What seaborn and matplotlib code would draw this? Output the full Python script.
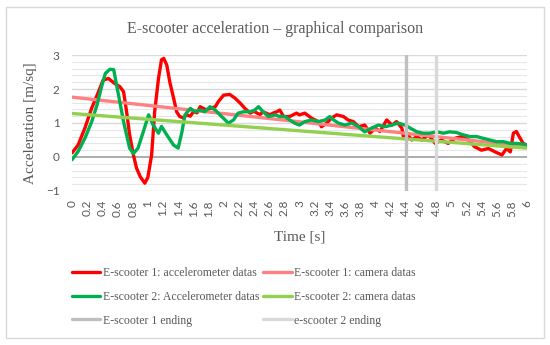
import seaborn as sns
import pandas as pd
import matplotlib.pyplot as plt
from matplotlib.patches import Rectangle

# values
t_acc1 = [0, 0.08, 0.17, 0.26, 0.35, 0.41, 0.48, 0.57, 0.63, 0.68, 0.72, 0.76, 0.81, 0.85,
          0.90, 0.96, 1.00, 1.05, 1.09, 1.14, 1.18, 1.21, 1.25, 1.29, 1.34, 1.38, 1.42, 1.47,
          1.51, 1.56, 1.60, 1.65, 1.69, 1.73, 1.78, 1.82, 1.89, 1.93, 2.0, 2.08, 2.15, 2.22,
          2.28, 2.35, 2.40, 2.44, 2.48, 2.52, 2.57, 2.61, 2.66, 2.70, 2.74, 2.79, 2.87, 2.96,
          3.0, 3.07, 3.16, 3.25, 3.29, 3.36, 3.42, 3.49, 3.58, 3.64, 3.71, 3.78, 3.86, 3.93,
          4.0, 4.06, 4.15, 4.22, 4.28, 4.35, 4.37, 4.41, 4.48, 4.55, 4.61, 4.70, 4.79, 4.87,
          4.96, 5.05, 5.14, 5.23, 5.31, 5.40, 5.49, 5.58, 5.67, 5.73, 5.78, 5.82, 5.86, 5.91,
          5.95, 6.0]
acc1 = [0.12, 0.35, 0.85, 1.44, 1.92, 2.26, 2.31, 2.15, 2.07, 1.92, 1.33, 0.65, 0.06, -0.32,
        -0.58, -0.77, -0.6, 0.06, 1.33, 2.3, 2.86, 2.9, 2.7, 2.2, 1.73, 1.33, 1.19, 1.15,
        1.24, 1.20, 1.33, 1.30, 1.48, 1.43, 1.38, 1.43, 1.48, 1.63, 1.82, 1.84, 1.73, 1.58,
        1.43, 1.29, 1.35, 1.29, 1.25, 1.33, 1.28, 1.24, 1.30, 1.33, 1.38, 1.19, 1.19, 1.29,
        1.24, 1.29, 1.14, 1.04, 0.89, 1.0, 1.14, 1.24, 1.19, 1.09, 1.04, 0.89, 0.94, 0.70,
        0.85, 0.75, 1.09, 0.94, 1.04, 0.85, 0.60, 0.70, 0.50, 0.6, 0.5, 0.65, 0.40, 0.5,
        0.40, 0.55, 0.6, 0.5, 0.3, 0.2, 0.25, 0.15, 0.06, 0.25, 0.15, 0.7, 0.75, 0.55,
        0.4, 0.35]

t_acc2 = [0, 0.08, 0.17, 0.26, 0.33, 0.39, 0.44, 0.50, 0.55, 0.58, 0.63, 0.68, 0.72, 0.76,
          0.81, 0.87, 0.94, 1.01, 1.07, 1.14, 1.18, 1.25, 1.34, 1.40, 1.45, 1.49, 1.56, 1.62,
          1.69, 1.75, 1.82, 1.89, 1.95, 2.02, 2.06, 2.13, 2.19, 2.26, 2.35, 2.41, 2.46, 2.52,
          2.59, 2.68, 2.74, 2.81, 2.87, 2.94, 3.0, 3.07, 3.16, 3.25, 3.34, 3.40, 3.45, 3.51,
          3.60, 3.69, 3.78, 3.86, 3.95, 4.04, 4.13, 4.22, 4.30, 4.39, 4.46, 4.55, 4.63, 4.72,
          4.81, 4.90, 4.98, 5.07, 5.16, 5.25, 5.34, 5.42, 5.51, 5.60, 5.69, 5.78, 5.86, 5.95,
          6.0]
acc2 = [-0.08, 0.16, 0.55, 1.04, 1.53, 2.07, 2.46, 2.58, 2.57, 2.21, 1.63, 1.04, 0.65, 0.26,
        0.1, 0.26, 0.74, 1.24, 0.94, 0.70, 0.9, 0.65, 0.35, 0.26, 0.74, 1.24, 1.43, 1.33,
        1.38, 1.33, 1.48, 1.38, 1.24, 1.09, 0.99, 1.09, 1.29, 1.33, 1.33, 1.38, 1.48, 1.33,
        1.19, 1.24, 1.19, 1.19, 1.09, 0.99, 0.94, 1.04, 1.09, 1.04, 1.09, 1.19, 1.09, 1.0,
        0.94, 1.0, 0.89, 0.74, 0.85, 0.94, 0.89, 0.94, 1.0, 0.94, 0.85, 0.74, 0.70, 0.70,
        0.74, 0.70, 0.74, 0.72, 0.65, 0.6, 0.6, 0.55, 0.5, 0.45, 0.45, 0.4, 0.4, 0.38,
        0.35]

t_cam = [0, 6]
cam1 = [1.76, 0.31]
cam2 = [1.28, 0.26]

end1 = 4.4
end2 = 4.8

x_ticks = [round(i * 0.2, 1) for i in range(31)]
x_labels = [f"{v:g}" for v in x_ticks]
y_ticks = [-1, 0, 1, 2, 3]

labels = ["E-scooter 1: accelerometer datas", "E-scooter 1: camera datas",
          "E-scooter 2: Accelerometer datas", "E-scooter 2: camera datas",
          "E-scooter 1 ending", "e-scooter 2 ending"]

txt = "#595959"
serif = ["Liberation Serif", "DejaVu Serif"]

sns.set_style("white")
plt.rcParams["font.family"] = ["Lato", "DejaVu Sans"]

fig = plt.figure(figsize=(5.5, 3.45), dpi=100)
ax = fig.add_axes([72 / 550, 1 - 191 / 345, 455 / 550, 136 / 345])

# gridlines
for v in [round(-1 + 0.2 * i, 1) for i in range(21)]:
    if v == 0:
        continue
    major = abs(v - round(v)) < 1e-6
    ax.axhline(v, color="#D9D9D9" if major else "#E6E6E6", lw=1.0 if major else 0.8, zorder=0)
ax.axhline(0, color="#A6A6A6", lw=1.3, zorder=1)

lw = 2.4
sns.lineplot(x=t_acc1, y=acc1, ax=ax, color="#FF0000", lw=lw, estimator=None, label=labels[0], zorder=3)
sns.lineplot(x=t_cam, y=cam1, ax=ax, color="#FF8080", lw=lw, estimator=None, label=labels[1], zorder=4)
sns.lineplot(x=t_acc2, y=acc2, ax=ax, color="#00B050", lw=lw, estimator=None, label=labels[2], zorder=5)
sns.lineplot(x=t_cam, y=cam2, ax=ax, color="#92D050", lw=lw, estimator=None, label=labels[3], zorder=6)
ax.axvline(end1, color="#BFBFBF", lw=lw, label=labels[4], zorder=7)
ax.axvline(end2, color="#D9D9D9", lw=lw, label=labels[5], zorder=7)

ax.set_xlim(0, 6)
ax.set_ylim(-1, 3)
ax.set_xticks(x_ticks)
ax.set_xticklabels(x_labels, rotation=90)
ax.set_yticks(y_ticks)
ax.tick_params(axis="both", length=0, labelsize=8.5, labelcolor=txt)
ax.tick_params(axis="x", pad=6.5)
ax.tick_params(axis="y", pad=9)
for s in ax.spines.values():
    s.set_visible(False)

ax.set_xlabel("Time [s]", family=serif, fontsize=11, color=txt)
ax.set_ylabel("Acceleration [m/sq]", family=serif, fontsize=11, color=txt)
ax.xaxis.set_label_coords(0.5, -0.287)
ax.yaxis.set_label_coords(-0.077, 0.5)

fig.text(0.5, 1 - 29 / 345, "E-scooter acceleration \u2013 graphical comparison",
         ha="center", va="center", family=serif, fontsize=11.5, color=txt)

handles, labs = ax.get_legend_handles_labels()
ax.get_legend().remove()
order = [0, 2, 4, 1, 3, 5]
fig.legend([handles[i] for i in order], [labs[i] for i in order], ncol=2,
           loc="upper left", bbox_to_anchor=(72 / 550, 1 - 267 / 345), frameon=False,
           borderpad=0, borderaxespad=0, handlelength=2.4, handletextpad=0.25,
           columnspacing=0.3, labelspacing=1.0, prop={"family": serif, "size": 8.5},
           labelcolor=txt)

fig.patches.append(Rectangle((6 / 550, 1 - 338 / 345), 538 / 550, 331 / 345,
                             transform=fig.transFigure, fill=False,
                             edgecolor="#D9D9D9", lw=1.0))

plt.savefig("out.png", dpi=100)
